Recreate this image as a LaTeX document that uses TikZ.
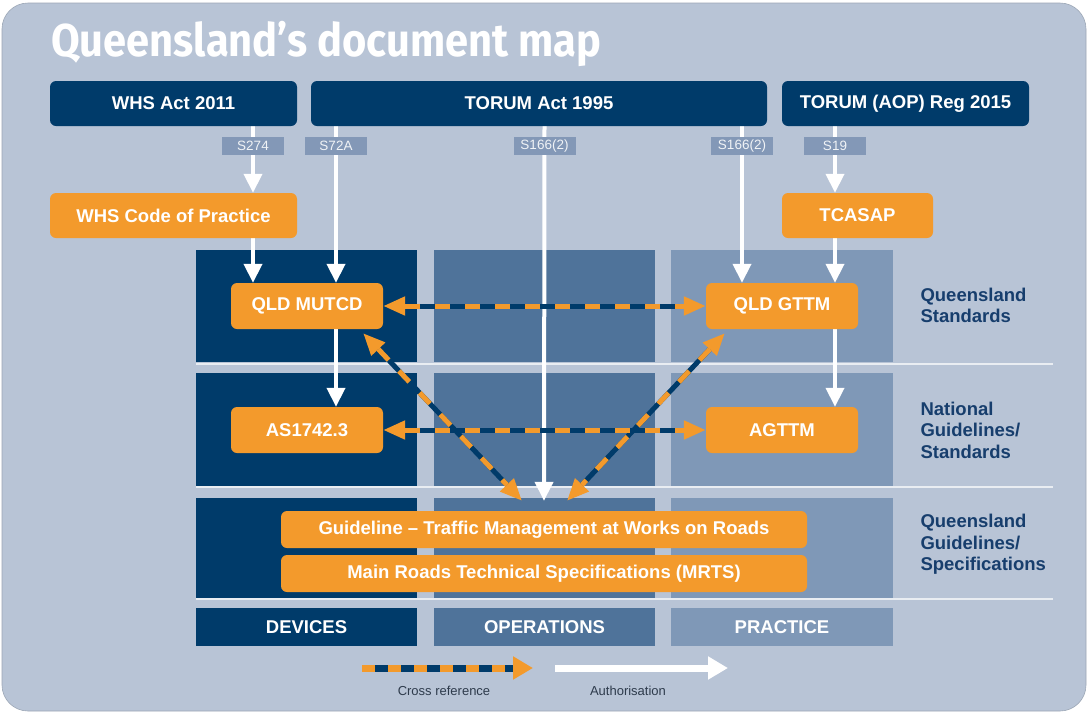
\documentclass[tikz,border=0pt]{standalone}
\usepackage{fontspec}
\setmainfont{Liberation Sans}
\newfontfamily\titlefont{Fira Sans}
\usetikzlibrary{arrows.meta}
\definecolor{bgc}{HTML}{B8C4D6}
\definecolor{navy}{HTML}{003B6A}
\definecolor{opc}{HTML}{4F739A}
\definecolor{prc}{HTML}{7F98B7}
\definecolor{orng}{HTML}{F39A2C}
\definecolor{secc}{HTML}{8398B7}
\definecolor{lbl}{HTML}{173E6D}
\definecolor{legt}{HTML}{2E3B4C}
\pgfdeclarelayer{bg}
\pgfdeclarelayer{lines}
\pgfsetlayers{bg,lines,main}
\tikzset{
  boxfont/.style={font=\bfseries\fontsize{18.5}{21}\selectfont},
  dbox/.style={boxfont, fill=navy, text=white, rounded corners=6pt, minimum height=45pt, inner sep=0pt},
  obox/.style={boxfont, fill=orng, text=white, rounded corners=6pt, minimum height=46pt, inner sep=0pt},
  gbox/.style={boxfont, fill=orng, text=white, rounded corners=6pt, minimum height=37pt, minimum width=526pt, inner sep=0pt},
  seclbl/.style={fill=secc, text=white!88!secc, font=\fontsize{13.5}{15}\selectfont, minimum width=62pt, minimum height=18pt, inner sep=0pt},
  colbox/.style={boxfont, text=white, minimum width=221pt, minimum height=38pt, inner sep=0pt},
  rowlbl/.style={font=\bfseries\fontsize{18.5}{21.5}\selectfont, text=lbl, align=left, anchor=west},
  legtxt/.style={font=\fontsize{13}{15}\selectfont, text=legt},
  auth/.style={draw=white, line width=4pt, -{Triangle[width=18pt,length=19pt]}},
  xbase/.style={draw=navy, line width=5pt, {Triangle[width=18pt,length=22pt,color=orng]}-{Triangle[width=18pt,length=22pt,color=orng]}},
  xdash/.style={draw=orng, line width=5pt, dash pattern=on 15pt off 15pt, shorten <=22pt, shorten >=22pt},
}
\begin{document}
\begin{tikzpicture}[x=1pt,y=-1pt]
\useasboundingbox (0,0) rectangle (1088,713);
\begin{pgfonlayer}{bg}
\fill[white] (0,0) rectangle (1088,713);
\filldraw[fill=bgc, draw=bgc!85!black, line width=0.6pt, rounded corners=26pt] (2,3) rectangle (1086,711);
% column backgrounds
\foreach \ya/\yb in {250/362, 373/486, 498/598} {
  \fill[navy] (196,\ya) rectangle (417,\yb);
  \fill[opc] (434,\ya) rectangle (655,\yb);
  \fill[prc] (671,\ya) rectangle (893,\yb);
}
\foreach \yy in {364, 487, 599} {
  \draw[white, opacity=0.7, line width=2pt] (196,\yy) -- (1053,\yy);
}
\end{pgfonlayer}

% title
\node[anchor=base west, text=white, inner sep=0pt, font=\titlefont\bfseries\fontsize{46}{50}\selectfont] (title) at (51,56) {\scalebox{0.905}[1]{Queensland’s document map}};

% top boxes
\node[dbox, minimum width=247pt] (whs) at (173.5,103.5) {WHS Act 2011};
\node[dbox, minimum width=456pt] (torum) at (539,103.5) {TORUM Act 1995};
\node[dbox, minimum width=247pt] (aop) at (905.5,103.5) {TORUM (AOP) Reg 2015};

% section labels
\node[seclbl] (s274) at (253,146) {S274};
\node[seclbl] (s72a) at (336,146) {S72A};
\node[seclbl] (s166a) at (544.5,146) {S166(2)};
\node[seclbl] (s166b) at (742,146) {S166(2)};
\node[seclbl] (s19) at (835,146) {S19};

% orange boxes
\node[obox, minimum width=247pt, minimum height=45pt] (code) at (173.5,215.5) {WHS Code of Practice};
\node[obox, minimum width=151pt, minimum height=45pt] (tcasap) at (857.5,215.5) {TCASAP};
\node[obox, minimum width=152pt] (mutcd) at (307,306) {QLD MUTCD};
\node[obox, minimum width=152pt] (as) at (307,430) {AS1742.3};
\node[obox, minimum width=152pt] (gttm) at (782,306) {QLD GTTM};
\node[obox, minimum width=152pt] (agttm) at (782,430) {AGTTM};
\node[gbox] (guide) at (544,529.5) {Guideline – Traffic Management at Works on Roads};
\node[gbox] (mrts) at (544,573.5) {Main Roads Technical Specifications (MRTS)};

% column labels
\node[colbox, fill=navy] (dev) at (306.5,627) {DEVICES};
\node[colbox, fill=opc] (ops) at (544.5,627) {OPERATIONS};
\node[colbox, fill=prc, minimum width=222pt] (prac) at (782,627) {PRACTICE};

% row labels
\node[rowlbl] (r1) at (917,305.5) {Queensland\\Standards};
\node[rowlbl] (r2) at (917,430) {National\\Guidelines/\\Standards};
\node[rowlbl] (r3) at (917,544.5) {Queensland\\Guidelines/\\Specifications};

% legend
\coordinate (lxa) at (362,668);
\coordinate (lxb) at (533,668);
\coordinate (laa) at (555,668);
\coordinate (lab) at (728,668);
\node[legtxt] (lx) at (444,691) {Cross reference};
\node[legtxt] (la) at (628,691) {Authorisation};

\begin{pgfonlayer}{lines}
% authorisation arrows
\draw[auth] (s274 |- whs.south) -- (s274 |- code.north);
\draw[auth] (s274 |- code.south) -- (s274 |- mutcd.north);
\draw[auth] (s72a |- torum.south) -- (s72a |- mutcd.north);
\draw[auth] (s72a |- mutcd.south) -- (s72a |- as.north);
\draw[auth] (s166a.center |- torum.south) -- ([yshift=10pt]guide.north);
\draw[auth] (s166b |- torum.south) -- (s166b |- gttm.north);
\draw[auth] (s19 |- aop.south) -- (s19 |- tcasap.north);
\draw[auth] (s19 |- tcasap.south) -- (s19 |- gttm.north);
\draw[auth] (s19 |- gttm.south) -- (s19 |- agttm.north);
% cross references
\draw[xbase] ([xshift=-20pt,yshift=-4pt]mutcd.south east) -- ([xshift=-22pt,yshift=10pt]guide.north);
\draw[xdash] ([xshift=-20pt,yshift=-4pt]mutcd.south east) -- ([xshift=-22pt,yshift=10pt]guide.north);
\draw[xbase] ([xshift=19pt,yshift=-4pt]gttm.south west) -- ([xshift=23pt,yshift=10pt]guide.north);
\draw[xdash] ([xshift=19pt,yshift=-4pt]gttm.south west) -- ([xshift=23pt,yshift=10pt]guide.north);
\draw[xbase] (mutcd.east) -- (gttm.west);
\draw[xdash] (mutcd.east) -- (gttm.west);
\draw[xbase] (as.east) -- (agttm.west);
\draw[xdash] (as.east) -- (agttm.west);
% legend arrows
\draw[draw=navy, line width=7pt, -{Triangle[width=22pt,length=20pt,color=orng]}] (lxa) -- (lxb);
\draw[draw=orng, line width=7pt, dash pattern=on 13pt off 13pt, shorten >=20pt] (lxa) -- (lxb);
\draw[draw=white, line width=7pt, -{Triangle[width=22pt,length=20pt]}] (laa) -- (lab);
\end{pgfonlayer}
\end{tikzpicture}
\end{document}
